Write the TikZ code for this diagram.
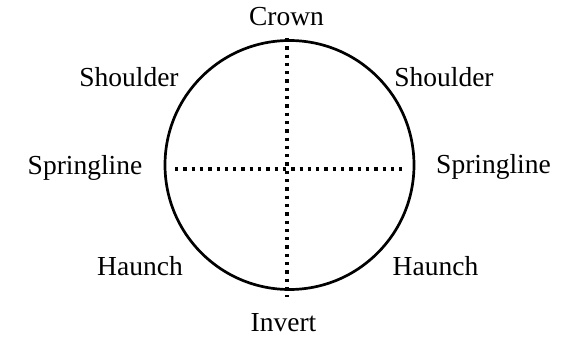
\documentclass[tikz,border=0pt]{standalone}
\usepackage{fontspec}
\setmainfont{Liberation Serif}
\begin{document}
\begin{tikzpicture}[x=1pt,y=-1pt,
  lbl/.style={anchor=base,inner sep=0pt,font=\fontsize{27.5}{33}\selectfont},
  ring/.style={draw=black,line width=2.7pt,circle,minimum size=249pt,inner sep=0pt},
  dotline/.style={draw=black,line width=3.3pt,dash pattern=on 3.3pt off 5pt}]
\useasboundingbox (0,0) rectangle (571,339);
\node[ring] (c) at (289.5,165) {};
\coordinate (vt) at (287,38);
\coordinate (vb) at (287,297);
\coordinate (hl) at (175,169);
\coordinate (hr) at (403,169);
\draw[dotline] (vt) -- (vb);
\draw[dotline] (hl) -- (hr);
\node[lbl] (crown) at (286.5,26) {Crown};
\node[lbl] (shl) at (129,86.5) {Shoulder};
\node[lbl] (shr) at (444,86.5) {Shoulder};
\node[lbl] (spl) at (85,175) {Springline};
\node[lbl] (spr) at (493.5,174) {Springline};
\node[lbl] (hal) at (140,276) {Haunch};
\node[lbl] (har) at (435.5,276) {Haunch};
\node[lbl] (inv) at (283.5,332) {Invert};
\end{tikzpicture}
\end{document}
